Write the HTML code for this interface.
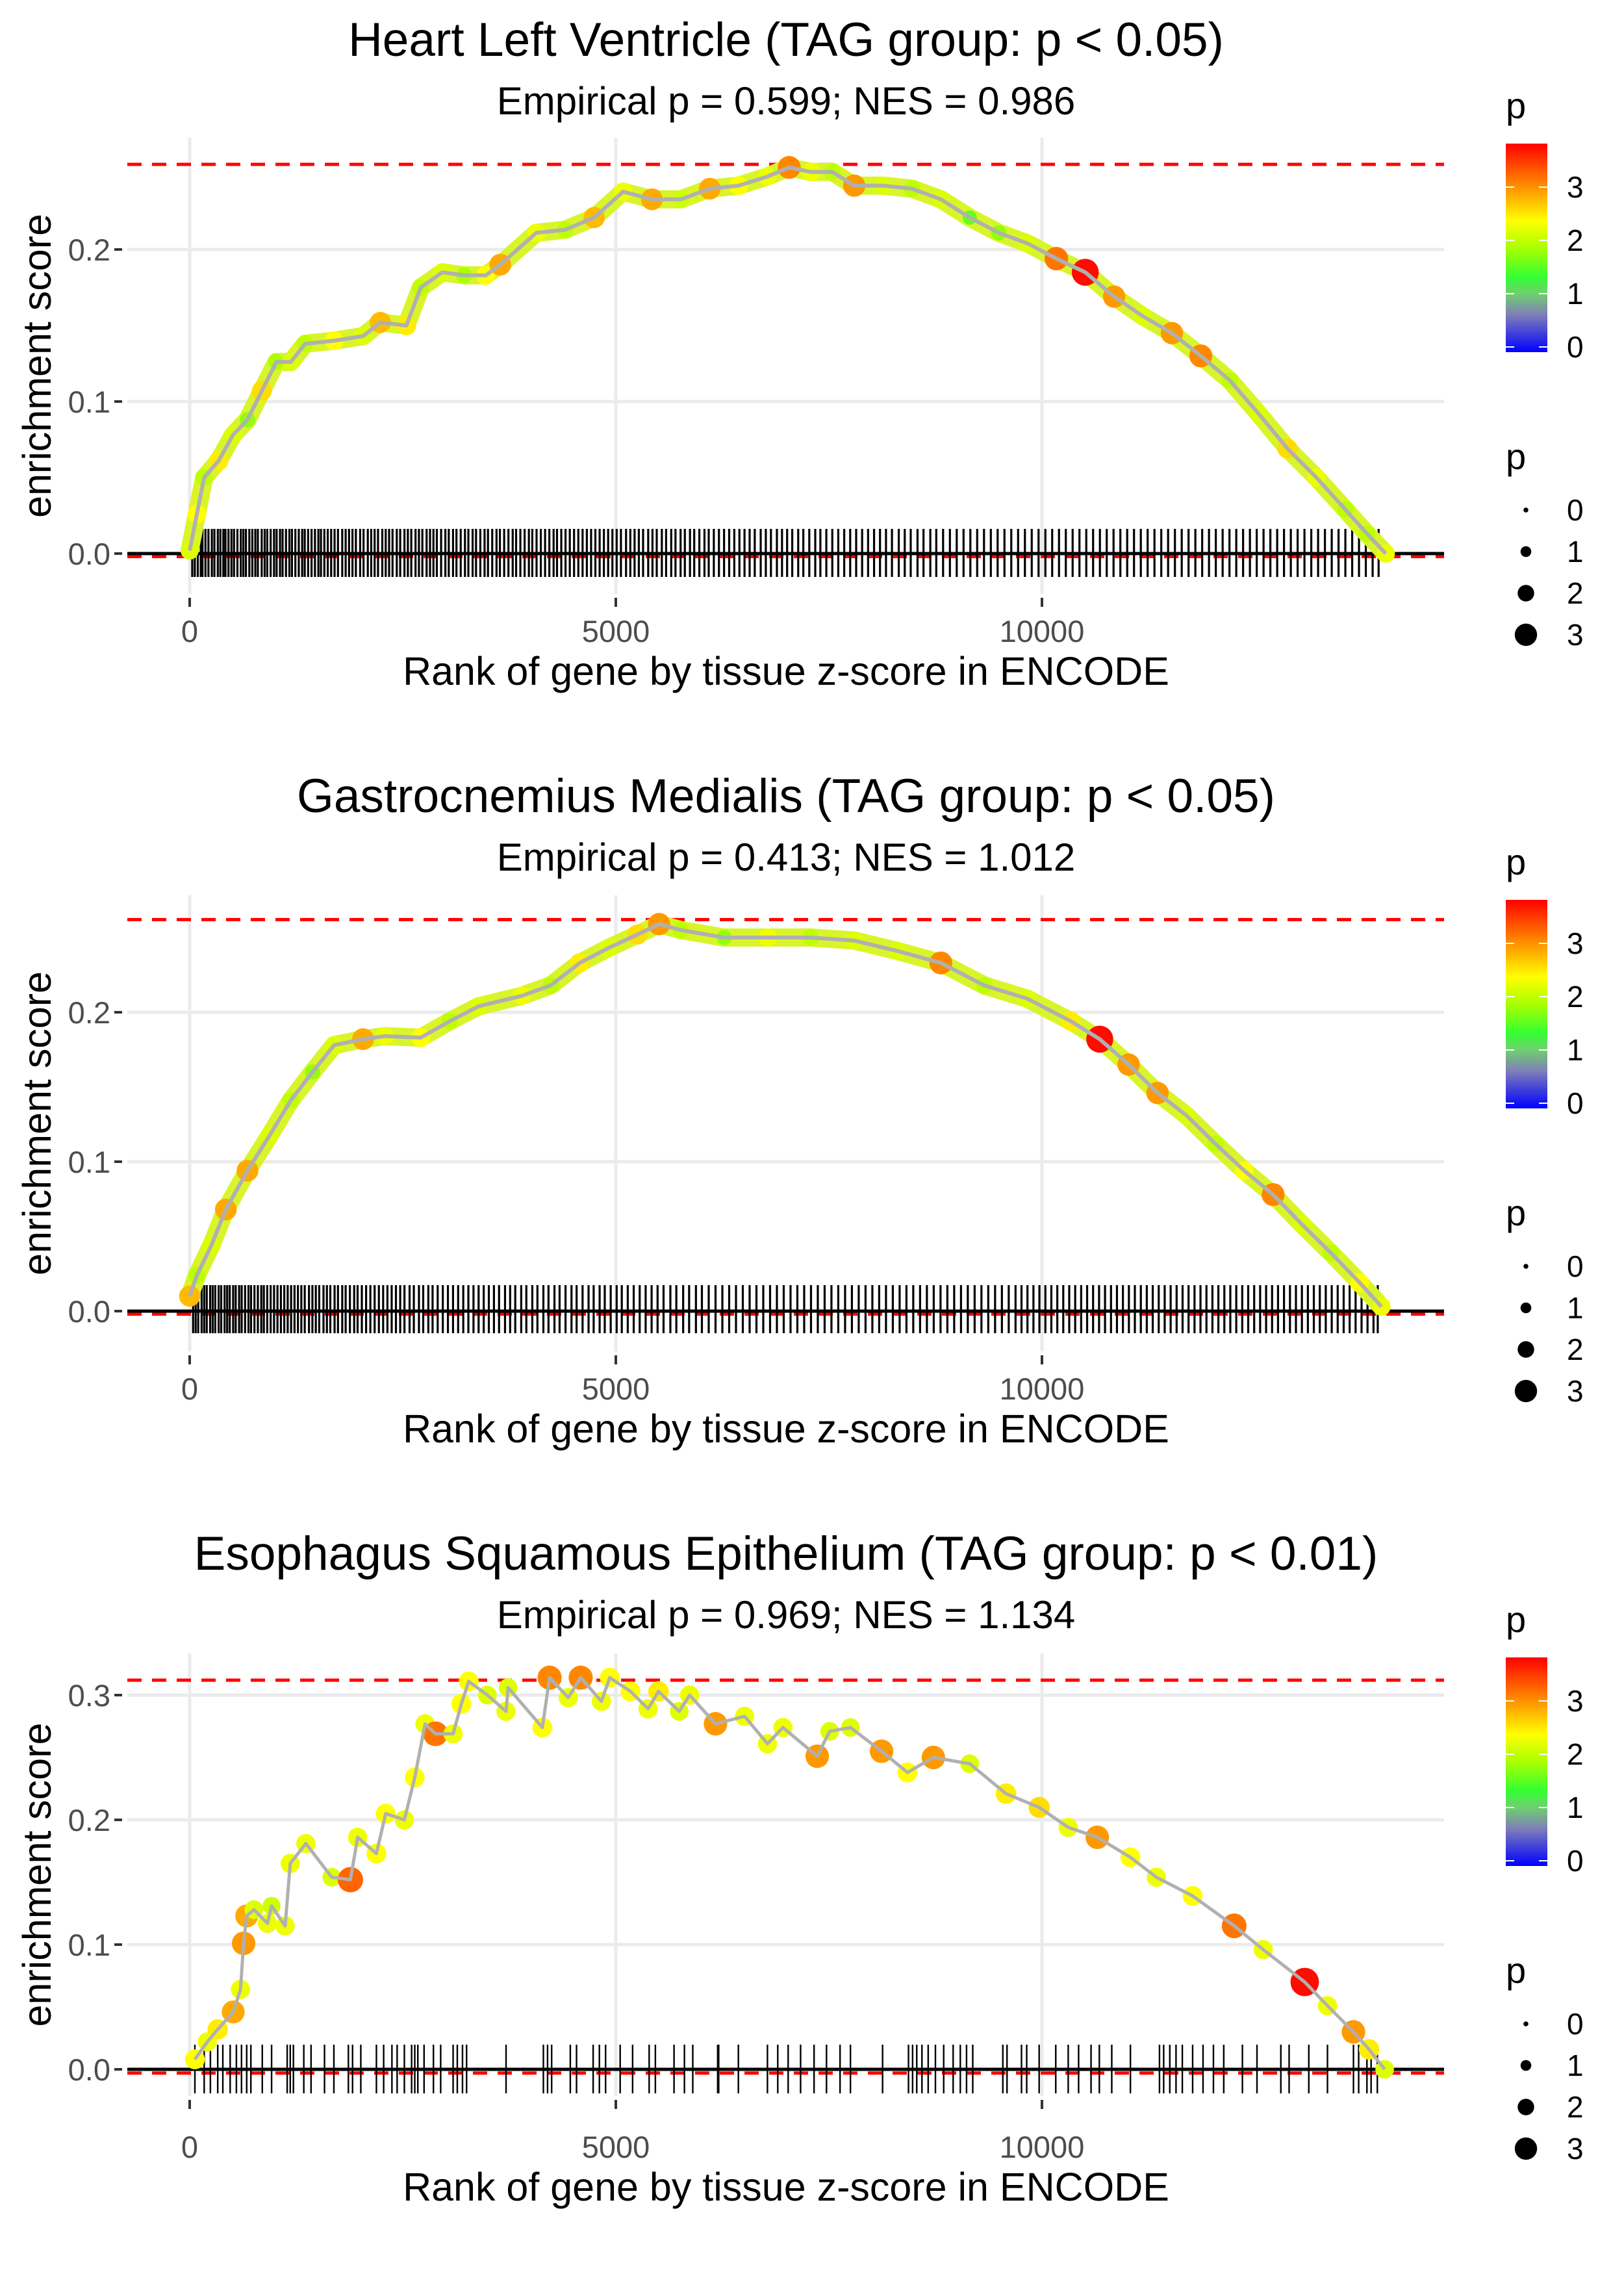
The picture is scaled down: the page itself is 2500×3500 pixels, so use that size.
<!DOCTYPE html>
<html><head><meta charset="utf-8">
<style>html,body{margin:0;padding:0;background:#fff}svg{display:block}text{font-family:"Liberation Sans",sans-serif}</style>
</head><body>
<svg id="fig" xmlns="http://www.w3.org/2000/svg" width="2500" height="3500" viewBox="0 0 2500 3500">
<defs>
<linearGradient id="pgrad" x1="0" y1="1" x2="0" y2="0">
<stop offset="0" stop-color="#0000ff"/><stop offset="0.18" stop-color="#7f7fb8"/><stop offset="0.28" stop-color="#6fcf6f"/><stop offset="0.36" stop-color="#33ff33"/><stop offset="0.5" stop-color="#aaff00"/><stop offset="0.63" stop-color="#ffff00"/><stop offset="0.78" stop-color="#ff9900"/><stop offset="1" stop-color="#ff0000"/>
</linearGradient>
</defs>
</svg>
<script>
// ---------- data ----------
const titles = ["Heart Left Ventricle (TAG group: p < 0.05)","Gastrocnemius Medialis (TAG group: p < 0.05)","Esophagus Squamous Epithelium (TAG group: p < 0.01)"];
const subtitles = ["Empirical p = 0.599; NES = 0.986","Empirical p = 0.413; NES = 1.012","Empirical p = 0.969; NES = 1.134"];
const maxES = [0.256, 0.262, 0.312];
const minES = [-0.002, -0.002, -0.003];
const xTicks = [0, 5000, 10000];
const xTickLabels = ["0","5000","10000"];
const yTicks1 = [0, 0.1, 0.2];
const yTicks2 = [0, 0.1, 0.2];
const yTicks3 = [0, 0.1, 0.2, 0.3];
const yTickLabels = ["0.0","0.1","0.2","0.3"];

const rank1 = [0,85,170,340,508,678,847,1017,1186,1356,1695,2034,2237,2542,2712,2966,3220,3475,3644,4068,4407,4746,5085,5424,5763,6102,6441,6780,7034,7288,7542,7797,8136,8475,8814,9153,9492,9831,10169,10508,10847,11186,11525,11864,12203,12542,12881,13220,13559,13814,14034];
const es1 = [0.002,0.026,0.05,0.061,0.078,0.088,0.107,0.126,0.126,0.138,0.14,0.143,0.152,0.15,0.175,0.185,0.183,0.183,0.19,0.211,0.213,0.221,0.238,0.233,0.233,0.24,0.242,0.248,0.254,0.251,0.251,0.242,0.242,0.24,0.233,0.221,0.211,0.204,0.194,0.185,0.169,0.156,0.145,0.13,0.114,0.092,0.069,0.05,0.029,0.013,0.0];
const p1 = [2.2,2.4,2.0,2.5,2.2,1.8,2.6,1.9,2.2,2.0,2.4,2.2,2.8,2.5,2.0,2.2,1.9,2.4,2.9,2.3,2.0,2.8,2.3,2.9,2.1,2.9,2.4,2.3,3.1,2.3,2.0,3.0,2.2,2.0,2.2,1.6,1.8,2.2,3.2,3.8,3.0,2.2,3.0,3.1,2.0,2.2,2.6,2.3,2.0,2.0,2.3];
const hits1 = [30,60,95,130,150,185,220,260,290,330,360,395,420,455,490,520,560,600,630,660,700,735,770,800,845,880,910,950,990,1020,1060,1090,1130,1170,1200,1240,1280,1320,1350,1390,1430,1470,1510,1540,1580,1620,1660,1700,1740,1790,1830,1870,1910,1950,2000,2040,2090,2130,2170,2210,2260,2300,2340,2380,2430,2470,2520,2560,2600,2650,2690,2730,2780,2820,2860,2900,2950,3000,3040,3090,3130,3180,3230,3270,3320,3360,3410,3460,3500,3550,3600,3640,3690,3740,3790,3830,3880,3930,3980,4020,4070,4120,4170,4220,4270,4310,4360,4410,4460,4510,4560,4610,4660,4710,4760,4810,4860,4910,4960,5010,5060,5120,5170,5220,5270,5320,5380,5430,5480,5540,5590,5650,5700,5760,5810,5870,5920,5980,6040,6090,6150,6210,6270,6330,6390,6450,6510,6570,6630,6700,6760,6820,6890,6950,7010,7070,7140,7200,7270,7340,7400,7470,7540,7610,7680,7750,7820,7890,7960,8030,8100,8170,8240,8320,8390,8460,8540,8610,8690,8760,8840,8920,9000,9080,9160,9240,9320,9400,9480,9560,9640,9720,9800,9880,9960,10040,10120,10200,10280,10360,10440,10520,10600,10680,10760,10840,10920,11000,11080,11160,11240,11320,11400,11480,11560,11640,11720,11800,11880,11960,12040,12120,12200,12280,12360,12440,12520,12600,12680,12760,12840,12920,13000,13080,13160,13240,13320,13400,13480,13560,13640,13720,13800,13880,13950];

const rank2 = [0,85,254,424,678,932,1186,1441,1695,2034,2288,2712,3051,3390,3898,4237,4576,4915,5254,5508,5763,6271,6780,7288,7797,8305,8814,9322,9831,10339,10678,11017,11356,11695,12034,12373,12712,13051,13390,13729,13983];
const es2 = [0.01,0.024,0.044,0.068,0.094,0.117,0.141,0.16,0.178,0.182,0.184,0.183,0.194,0.204,0.211,0.218,0.233,0.243,0.252,0.259,0.255,0.25,0.25,0.25,0.248,0.241,0.233,0.218,0.209,0.194,0.182,0.165,0.146,0.131,0.112,0.094,0.078,0.058,0.039,0.019,0.003];
const p2 = [2.8,2.0,2.2,2.9,2.9,2.2,2.0,1.8,2.2,2.9,2.3,2.4,2.0,2.2,2.3,2.0,2.5,2.2,2.6,3.0,2.0,1.8,2.3,2.0,2.2,2.2,3.1,2.0,2.2,2.5,3.8,3.0,3.0,2.2,2.0,2.4,3.1,2.2,2.0,2.4,2.3];
const hits2 = [40,70,100,140,170,200,240,270,300,340,370,410,440,470,510,540,580,610,650,690,720,760,800,840,870,910,950,990,1030,1070,1110,1150,1190,1230,1270,1310,1350,1400,1440,1480,1520,1570,1610,1650,1700,1740,1790,1830,1880,1930,1970,2020,2070,2120,2170,2220,2270,2320,2370,2420,2470,2520,2580,2630,2690,2740,2800,2850,2910,2970,3030,3090,3150,3210,3270,3330,3390,3450,3510,3570,3630,3700,3760,3820,3890,3950,4020,4080,4150,4210,4280,4340,4410,4480,4540,4610,4680,4740,4810,4870,4940,5010,5070,5140,5210,5280,5350,5420,5490,5560,5640,5710,5790,5860,5940,6010,6090,6170,6250,6330,6410,6490,6570,6650,6730,6810,6890,6970,7050,7130,7210,7290,7370,7450,7530,7610,7690,7770,7850,7930,8010,8090,8170,8250,8330,8410,8490,8570,8650,8730,8810,8890,8970,9050,9130,9210,9290,9370,9450,9530,9610,9690,9760,9830,9900,9970,10040,10110,10180,10250,10320,10390,10460,10530,10600,10670,10740,10810,10880,10950,11020,11090,11160,11230,11300,11370,11440,11510,11580,11650,11720,11790,11860,11930,12000,12070,12140,12210,12280,12350,12420,12490,12560,12630,12700,12770,12840,12910,12980,13050,13120,13190,13260,13330,13400,13470,13540,13610,13680,13750,13820,13890,13940];

const rank3 = [61,207,329,511,596,633,669,754,913,961,1120,1180,1363,1667,1886,1971,2191,2300,2519,2641,2762,2884,3091,3188,3274,3493,3712,3736,4138,4223,4442,4588,4831,4929,5172,5379,5501,5744,5866,6170,6511,6779,6961,7363,7509,7753,8118,8422,8726,9152,9578,9967,10308,10649,11038,11342,11768,12255,12596,13083,13350,13655,13838,14021];
const es3 = [0.008,0.022,0.032,0.046,0.064,0.101,0.123,0.128,0.117,0.131,0.115,0.165,0.181,0.154,0.152,0.186,0.173,0.205,0.2,0.234,0.277,0.269,0.269,0.293,0.311,0.3,0.287,0.306,0.274,0.314,0.298,0.314,0.295,0.314,0.303,0.289,0.303,0.287,0.3,0.277,0.283,0.261,0.274,0.251,0.271,0.274,0.255,0.238,0.25,0.245,0.221,0.21,0.194,0.186,0.17,0.154,0.139,0.115,0.096,0.07,0.051,0.03,0.016,0.0];
const p3 = [2.4,2.3,2.5,2.9,2.3,3.0,2.9,2.2,2.3,2.1,2.3,2.3,2.3,2.2,3.3,2.3,2.4,2.4,2.3,2.4,2.3,3.2,2.3,2.4,2.4,2.2,2.3,2.2,2.4,3.1,2.3,3.1,2.3,2.4,2.4,2.3,2.5,2.2,2.3,3.0,2.3,2.3,2.3,3.0,2.2,2.2,3.0,2.4,3.0,2.2,2.5,2.6,2.3,3.0,2.4,2.3,2.4,3.2,2.3,3.8,2.3,3.0,2.5,2.2];
const hits3 = [61,170,243,329,389,475,548,608,669,718,852,961,1144,1180,1217,1339,1424,1582,1692,1862,1911,2008,2191,2276,2373,2434,2519,2604,2641,2677,2750,2860,2945,3091,3140,3201,3249,3712,4150,4199,4247,4466,4539,4734,4807,4880,5051,5197,5391,5464,5683,5805,5903,6195,6207,6438,6779,6900,7022,7168,7326,7472,7631,7753,8130,8434,8482,8531,8592,8665,8750,8847,8958,9042,9115,9188,9541,9590,9760,9821,9967,10162,10308,10430,10576,10673,10819,11038,11379,11428,11500,11573,11647,11768,11890,12012,12133,12352,12523,12803,12900,13131,13350,13655,13716,13813,13862,13935];

const legendBreaks = [0,1,2,3];

// ---------- helpers ----------
const NS = "http://www.w3.org/2000/svg";
const svg = document.getElementById('fig');
function mk(tag, attrs, parent){const e=document.createElementNS(NS,tag);for(const k in attrs)e.setAttribute(k,attrs[k]);(parent||svg).appendChild(e);return e;}
function txt(s, attrs, parent){const e=mk('text',attrs,parent);e.textContent=s;return e;}
const stops=[[0,[0,0,255]],[0.7,[127,127,184]],[1.1,[111,207,111]],[1.4,[51,255,51]],[1.9,[170,255,0]],[2.4,[255,255,0]],[3.0,[255,153,0]],[3.86,[255,0,0]]];
function pcol(p){for(let i=1;i<stops.length;i++){if(p<=stops[i][0]){const a=stops[i-1],b=stops[i];const t=(p-a[0])/(b[0]-a[0]);const c=a[1].map((v,j)=>Math.round(v+(b[1][j]-v)*t));return 'rgb('+c.join(',')+')';}}return 'rgb(255,0,0)';}
function prad(p){return 4+4.7*p;}

const panels=[
 {y0:852, ys:2340, top:212, bot:914, rug:[814,888], yt:yTicks1, r:rank1, e:es1, p:p1, h:hits1, band:true, off:0},
 {y0:2018, ys:2300, top:1378, bot:2080, rug:[1978,2052], yt:yTicks2, r:rank2, e:es2, p:p2, h:hits2, band:true, off:1164},
 {y0:3185, ys:1920, top:2545, bot:3226, rug:[3147,3222], yt:yTicks3, r:rank3, e:es3, p:p3, h:hits3, band:false, off:2330}
];
const L=196,R=2223,X0=292,XS=656/5000;

panels.forEach((P,i)=>{
 const g=mk('g',{});
 
 
 const xs=v=>X0+v*XS, ysc=v=>P.y0-v*P.ys;
 const t=txt(titles[i],{x:1210,y:P.off+86,'font-size':73,'text-anchor':'middle',fill:'#000'},g);
 
 
 const st=txt(subtitles[i],{x:1210,y:P.off+176,'font-size':60,'text-anchor':'middle',fill:'#000'},g);
 
 
 P.yt.forEach(v=>{const l=mk('line',{x1:L,x2:R,y1:ysc(v),y2:ysc(v),stroke:'#ebebeb','stroke-width':5},g);
  
  });
 xTicks.forEach(v=>{const l=mk('line',{x1:xs(v),x2:xs(v),y1:P.top,y2:P.bot,stroke:'#ebebeb','stroke-width':5},g);
  
  });
 P.yt.forEach((v,k)=>{mk('line',{x1:176,x2:188,y1:ysc(v),y2:ysc(v),stroke:'#333','stroke-width':4},g);
  const tl=txt(yTickLabels[k],{x:170,y:ysc(v)+17,'font-size':47,'text-anchor':'end',fill:'#4d4d4d'},g);
  
  });
 xTicks.forEach((v,k)=>{mk('line',{x1:xs(v),x2:xs(v),y1:P.bot+6,y2:P.bot+20,stroke:'#333','stroke-width':4},g);
  const tl=txt(xTickLabels[k],{x:xs(v),y:P.y0+136,'font-size':47,'text-anchor':'middle',fill:'#4d4d4d'},g);
  
  });
 const xt=txt('Rank of gene by tissue z-score in ENCODE',{x:1210,y:P.y0+202,'font-size':61,'text-anchor':'middle',fill:'#000'},g);
 
 
 const ymid=(P.top+P.bot)/2;
 const yt=txt('enrichment score',{x:0,y:0,'font-size':61,'text-anchor':'middle',fill:'#000',transform:'translate(78,'+ymid+') rotate(-90)'},g);
 
 
 [maxES[i],minES[i]].forEach(v=>{const l=mk('line',{x1:L,x2:R,y1:ysc(v),y2:ysc(v),stroke:'#ff0000','stroke-width':5,'stroke-dasharray':'22 16'},g);
  
  });
 P.h.forEach(v=>{const l=mk('line',{x1:xs(v),x2:xs(v),y1:P.rug[0],y2:P.rug[1],stroke:'#000','stroke-width':i<2?3.2:2.4},g);
  
  });
 const z=mk('line',{x1:L,x2:R,y1:ysc(0),y2:ysc(0),stroke:'#000','stroke-width':5},g);
 
 
 const pts=P.r.map((v,k)=>xs(v)+','+ysc(P.e[k])).join(' ');
 if(P.band){const b=mk('polyline',{points:pts,fill:'none',stroke:'#d9f52a','stroke-width':28,'stroke-linejoin':'round','stroke-linecap':'round'},g);
  
  }
 P.r.forEach((v,k)=>{const c=mk('circle',{cx:xs(v),cy:ysc(P.e[k]),r:prad(P.p[k])*(P.band?0.95:1),fill:pcol(P.p[k])},g);
  
  });
 const ln=mk('polyline',{points:pts,fill:'none',stroke:'#b0b0b0','stroke-width':P.band?6:5,'stroke-linejoin':'round'},g);
 
 
 const lg=mk('g',{},g);
 
 
 txt('p',{x:2318,y:P.off+182,'font-size':56,fill:'#000'},lg);
 mk('rect',{x:2318,y:P.off+221,width:64,height:321,fill:'url(#pgrad)'},lg);
 legendBreaks.forEach(v=>{const y=P.off+534-v*82;
  mk('line',{x1:2318,x2:2331,y1:y,y2:y,stroke:'#fff','stroke-width':2},lg);
  mk('line',{x1:2369,x2:2382,y1:y,y2:y,stroke:'#fff','stroke-width':2},lg);
  txt(String(v),{x:2412,y:y+16,'font-size':46,fill:'#000'},lg);});
 const sg=mk('g',{},g);
 
 
 txt('p',{x:2318,y:P.off+722,'font-size':56,fill:'#000'},sg);
 legendBreaks.forEach((v,k)=>{const y=P.off+785+k*64;
  mk('circle',{cx:2349,cy:y,r:prad(v)*0.95,fill:'#000'},sg);
  txt(String(v),{x:2412,y:y+16,'font-size':46,fill:'#000'},sg);});
});
</script>
</body></html>
